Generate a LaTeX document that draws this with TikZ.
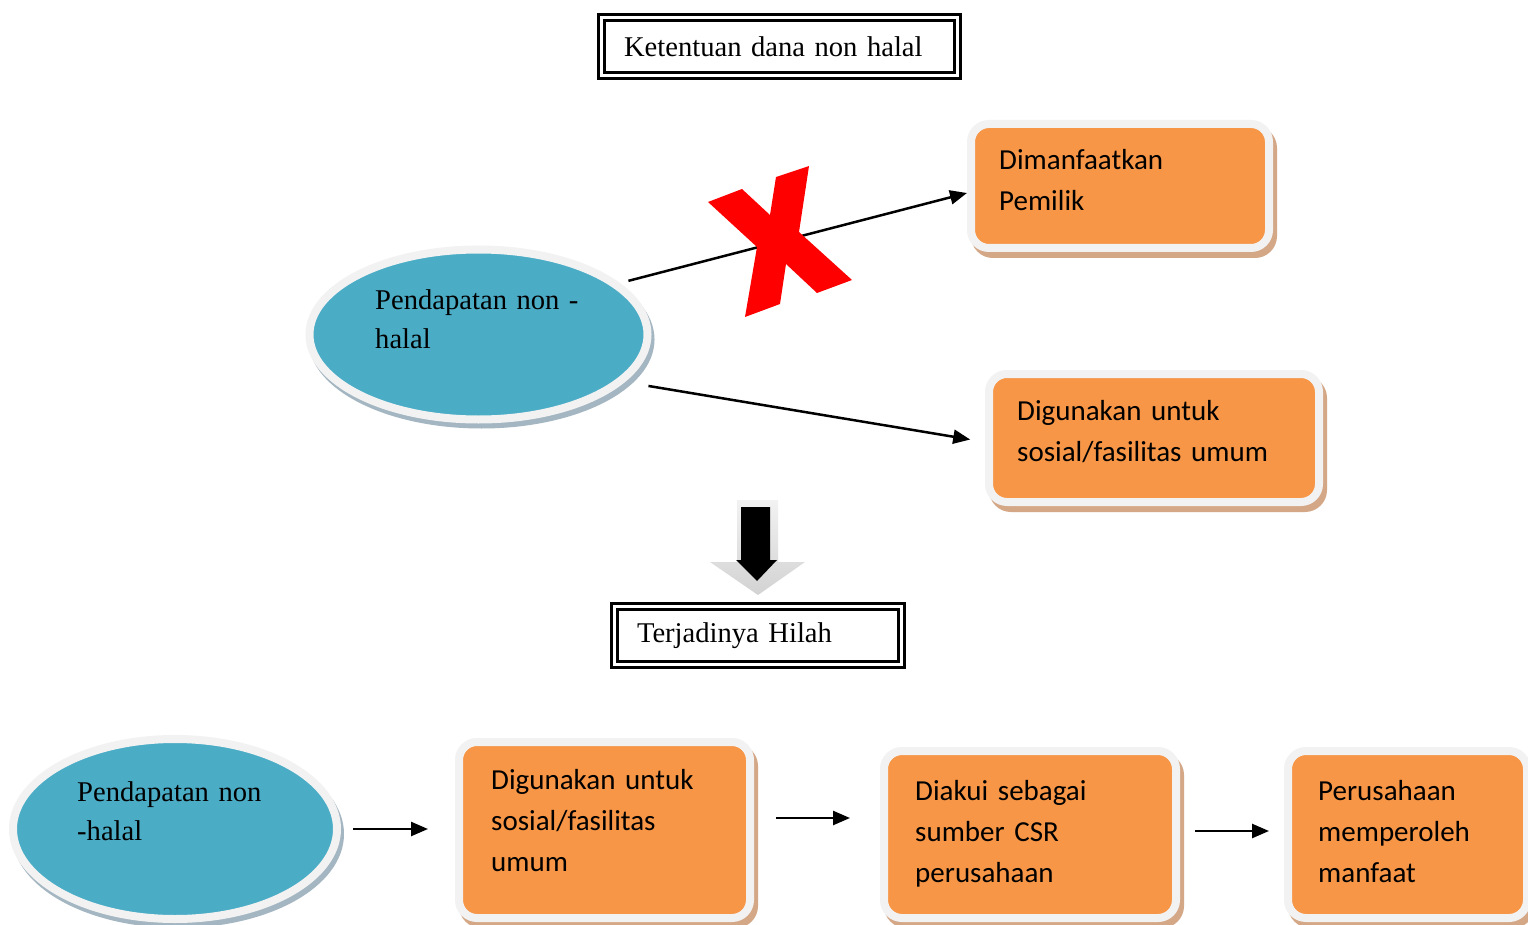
\documentclass[tikz,border=0pt]{standalone}
\usepackage{fontspec}
\setmainfont{Liberation Serif}
\newfontfamily\cardfont{Carlito}
\usepackage{tikz}
\usetikzlibrary{arrows.meta, shapes.geometric, shadows}
\definecolor{hilahteal}{HTML}{4BACC6}
\definecolor{hilahtealshade}{HTML}{A3B6C2}
\definecolor{hilahorange}{HTML}{F79646}
\definecolor{hilahorangeshade}{HTML}{D4A786}
\definecolor{hilahrim}{HTML}{F2F2F2}
\definecolor{hilahred}{HTML}{FF0000}

\begin{document}
\begin{tikzpicture}[
  x=1pt, y=-1pt,
  headbox/.style={draw, double, double distance=2.7pt, line width=3pt, minimum height=58pt, inner xsep=22.5pt, inner ysep=0pt, align=left, font=\fontsize{28.6}{39}\selectfont},
  oval/.style={ellipse, draw=hilahrim, line width=8pt, fill=hilahteal, inner sep=0pt, drop shadow={shadow xshift=3pt, shadow yshift=-5pt, fill=hilahtealshade, draw=hilahtealshade, line width=8pt, opacity=1}},
  card/.style={rectangle, rounded corners=18pt, draw=hilahrim, line width=8pt, fill=hilahorange, inner sep=0pt, drop shadow={shadow xshift=4pt, shadow yshift=-6pt, fill=hilahorangeshade, draw=hilahorangeshade, line width=8pt, opacity=1}},
  ovaltext/.style={anchor=base west, inner sep=0pt, text width=260pt, align=left, font=\fontsize{28.6}{39}\selectfont},
  cardtext/.style={anchor=base west, inner sep=0pt, text width=280pt, align=left, font=\cardfont\fontsize{29}{41}\selectfont},
  arr/.style={-{Triangle[length=17pt, width=14pt]}, line width=2.5pt}
]
\useasboundingbox (0,0) rectangle (1528,925);
\fill[white] (0,0) rectangle (1528,925);

\node[headbox, text width=311pt] (ketentuan) at (779.5,46.5) {Ketentuan dana non halal};
\node[headbox, text width=242pt] (hilah) at (758,635.5) {Terjadinya Hilah};

\node[oval, minimum width=338pt, minimum height=170pt] (pendapatan) at (478.5,334.5) {};
\node[ovaltext] (pendapatantext) at (375,309) {Pendapatan non -\\halal};
\node[card, minimum width=298pt, minimum height=124pt] (pemilik) at (1120,186) {};
\node[cardtext] (pemiliktext) at (999,170) {Dimanfaatkan\\Pemilik};
\node[card, minimum width=330pt, minimum height=128pt] (sosial) at (1154,438) {};
\node[cardtext] (sosialtext) at (1017,420) {Digunakan untuk\\sosial/fasilitas umum};

\node[oval, minimum width=324pt, minimum height=180pt] (nonhalal) at (175,829) {};
\node[ovaltext] (nonhalaltext) at (77,801) {Pendapatan non\\-halal};
\node[card, minimum width=291pt, minimum height=176pt] (fasilitas) at (604.5,830) {};
\node[cardtext] (fasilitastext) at (491,789) {Digunakan untuk\\sosial/fasilitas\\umum};
\node[card, minimum width=292pt, minimum height=167pt] (csr) at (1030,834.5) {};
\node[cardtext] (csrtext) at (915,800) {Diakui sebagai\\sumber CSR\\perusahaan};
\node[card, minimum width=239pt, minimum height=167pt] (manfaat) at (1407.5,834.5) {};
\node[cardtext] (manfaattext) at (1318,800) {Perusahaan\\memperoleh\\manfaat};

\draw[arr, shorten <=9pt] (pendapatan.20) -- ([yshift=-7pt]pemilik.west);
\draw[arr, shorten <=24pt, shorten >=15pt] (pendapatan.-18) -- ([yshift=-4pt]sosial.west);
\fill[hilahred] (708,202) -- (742,189) -- (770,215) -- (776,177) -- (809,166) -- (799,232) -- (852,280) -- (817,293) -- (786,264) -- (780,304) -- (745,317) -- (757,247) -- cycle;

\shade[top color=hilahrim, bottom color=gray!35] (737,500) -- (778,500) -- (778,562) -- (805,562) -- (758,595) -- (710,562) -- (737,562) -- cycle;
\fill[black] (741,507) -- (770,507) -- (770,560) -- (777,560) -- (757,581) -- (736,560) -- (741,560) -- cycle;

\draw[arr, shorten <=12pt, shorten >=27pt] (nonhalal.east) -- (nonhalal.east -| fasilitas.west);
\draw[arr, shorten <=22pt, shorten >=30pt] ([yshift=12pt]fasilitas.east) -- ([yshift=12pt]fasilitas.east -| csr.west);
\draw[arr, shorten <=15pt, shorten >=15pt] ([yshift=3.5pt]csr.east) -- ([yshift=3.5pt]csr.east -| manfaat.west);
\end{tikzpicture}
\end{document}
